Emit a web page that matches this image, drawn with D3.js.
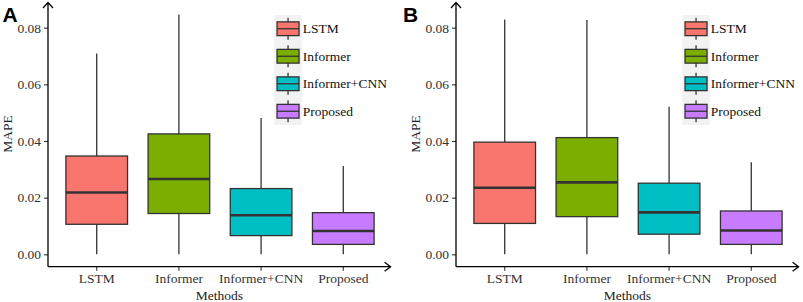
<!DOCTYPE html>
<html>
<head>
<meta charset="utf-8">
<script src="https://cdn.jsdelivr.net/npm/d3@7"></script>
<style>
  body { margin: 0; background: #fff; }
  svg { display: block; }
  .axis text { font-family: "Liberation Serif", "Times New Roman", serif; font-size: 13.5px; fill: #333; }
  .axis line { stroke: #333; stroke-width: 1.1; }
</style>
</head>
<body>
<div id="chart"></div>
<script>
var methods = ["LSTM", "Informer", "Informer+CNN", "Proposed"];
var colors = ["#F8766D", "#7CAE00", "#00BFC4", "#C77CFF"];
var yTicks = [0, 0.02, 0.04, 0.06, 0.08];

// panel A: whisker low, Q1, median, Q3, whisker high
var aLow    = [0, 0, 0, 0];
var aQ1     = [0.0106, 0.0144, 0.0066, 0.0035];
var aMedian = [0.0218, 0.0266, 0.0138, 0.0082];
var aQ3     = [0.0347, 0.0425, 0.0232, 0.0147];
var aHigh   = [0.0709, 0.0847, 0.0481, 0.0312];

// panel B
var bLow    = [0, 0, 0, 0];
var bQ1     = [0.0109, 0.0133, 0.0071, 0.0035];
var bMedian = [0.0235, 0.0254, 0.0148, 0.0084];
var bQ3     = [0.0396, 0.0412, 0.0251, 0.0153];
var bHigh   = [0.0829, 0.0827, 0.0521, 0.0325];

var width = 803, height = 302;
var svg = d3.select("#chart").append("svg")
    .attr("width", width)
    .attr("height", height);

var serif = "'Liberation Serif', 'Times New Roman', serif";

function panel(ox, letter, letterX, low, q1, med, q3, high) {
	var g = svg.append("g").attr("transform", "translate(" + ox + ",0)");
	var axisX = 48, axisY = 266.7;

	var x = d3.scaleBand()
	    .domain(methods)
	    .range([47.4, 392.6])
	    .paddingInner(0)
	    .paddingOuter(0.1);
	var y = d3.scaleLinear()
	    .domain([0, 0.08])
	    .range([254.3, 27.7]);

	var rows = methods.map(function(m, i) {
		return {name: m, color: colors[i], low: low[i], q1: q1[i], med: med[i], q3: q3[i], high: high[i]};
	});

	// y axis ticks + labels
	g.append("g")
		.attr("class", "axis")
		.attr("transform", "translate(" + axisX + ",0)")
		.call(d3.axisLeft(y).tickValues(yTicks).tickFormat(d3.format(".2f")).tickSize(4).tickPadding(3))
		.call(function(s) { s.select(".domain").remove(); });

	// x axis ticks + labels
	g.append("g")
		.attr("class", "axis")
		.attr("transform", "translate(0," + axisY + ")")
		.call(d3.axisBottom(x).tickSize(4).tickPadding(3))
		.call(function(s) { s.select(".domain").remove(); });

	// boxes
	var bw = x.bandwidth() * 0.75;
	var box = g.append("g").selectAll("g")
		.data(rows)
		.enter()
		.append("g")
		.attr("transform", function(d) { return "translate(" + (x(d.name) + x.bandwidth() / 2) + ",0)"; });
	box.append("line")
		.attr("y1", function(d) { return y(d.high); })
		.attr("y2", function(d) { return y(d.q3); })
		.attr("stroke", "#333").attr("stroke-width", 1.3);
	box.append("line")
		.attr("y1", function(d) { return y(d.q1); })
		.attr("y2", function(d) { return y(d.low); })
		.attr("stroke", "#333").attr("stroke-width", 1.3);
	box.append("rect")
		.attr("x", -bw / 2)
		.attr("width", bw)
		.attr("y", function(d) { return y(d.q3); })
		.attr("height", function(d) { return y(d.q1) - y(d.q3); })
		.attr("fill", function(d) { return d.color; })
		.attr("stroke", "#333").attr("stroke-width", 1.3);
	box.append("line")
		.attr("x1", -bw / 2).attr("x2", bw / 2)
		.attr("y1", function(d) { return y(d.med); })
		.attr("y2", function(d) { return y(d.med); })
		.attr("stroke", "#333").attr("stroke-width", 2.6);

	// axis lines with arrows
	g.append("path")
		.attr("d", "M" + axisX + "," + axisY + "V2.5M" + (axisX - 5) + ",8L" + axisX + ",2.5L" + (axisX + 5) + ",8")
		.attr("fill", "none").attr("stroke", "#000").attr("stroke-width", 1.3);
	var xEnd = x.range()[1] - 2;
	g.append("path")
		.attr("d", "M" + axisX + "," + axisY + "H" + xEnd + "M" + (xEnd - 6) + "," + (axisY - 4.5) + "L" + xEnd + "," + axisY + "L" + (xEnd - 6) + "," + (axisY + 4.5))
		.attr("fill", "none").attr("stroke", "#000").attr("stroke-width", 1.3);

	// axis titles
	g.append("text")
		.attr("transform", "translate(12,134) rotate(-90)")
		.attr("text-anchor", "middle")
		.style("font-family", serif)
		.style("font-size", "13.5px")
		.attr("fill", "#222")
		.text("MAPE");
	g.append("text")
		.attr("x", (axisX + xEnd) / 2)
		.attr("y", 299.5)
		.attr("text-anchor", "middle")
		.style("font-family", serif)
		.style("font-size", "13.5px")
		.attr("fill", "#222")
		.text("Methods");

	// panel letter
	g.append("text")
		.attr("x", letterX).attr("y", 22)
		.style("font-family", "'Liberation Sans', Arial, sans-serif")
		.style("font-size", "21px")
		.style("font-weight", "bold")
		.text(letter);

	// legend
	var lx = 274.3, ly = 15, key = 27.5;
	var leg = g.append("g").attr("transform", "translate(" + lx + "," + ly + ")");
	leg.append("rect")
		.attr("width", key).attr("height", key * rows.length)
		.attr("fill", "#F2F2F2");
	var item = leg.selectAll("g")
		.data(rows)
		.enter()
		.append("g")
		.attr("transform", function(d, i) { return "translate(0," + (i * key) + ")"; });
	item.append("line")
		.attr("x1", key / 2).attr("x2", key / 2)
		.attr("y1", key * 0.1).attr("y2", key * 0.9)
		.attr("stroke", "#333").attr("stroke-width", 1.3);
	item.append("rect")
		.attr("x", key * 0.1).attr("width", key * 0.8)
		.attr("y", key * 0.25).attr("height", key * 0.5)
		.attr("fill", function(d) { return d.color; })
		.attr("stroke", "#333").attr("stroke-width", 1.3);
	item.append("line")
		.attr("x1", key * 0.1).attr("x2", key * 0.9)
		.attr("y1", key / 2).attr("y2", key / 2)
		.attr("stroke", "#333").attr("stroke-width", 1.3);
	item.append("text")
		.attr("x", key + 1)
		.attr("y", key / 2 + 4.6)
		.style("font-family", serif)
		.style("font-size", "13.5px")
		.attr("fill", "#111")
		.text(function(d) { return d.name; });
}

panel(0, "A", 2.5, aLow, aQ1, aMedian, aQ3, aHigh);
panel(408, "B", -5, bLow, bQ1, bMedian, bQ3, bHigh);
</script>
</body>
</html>
